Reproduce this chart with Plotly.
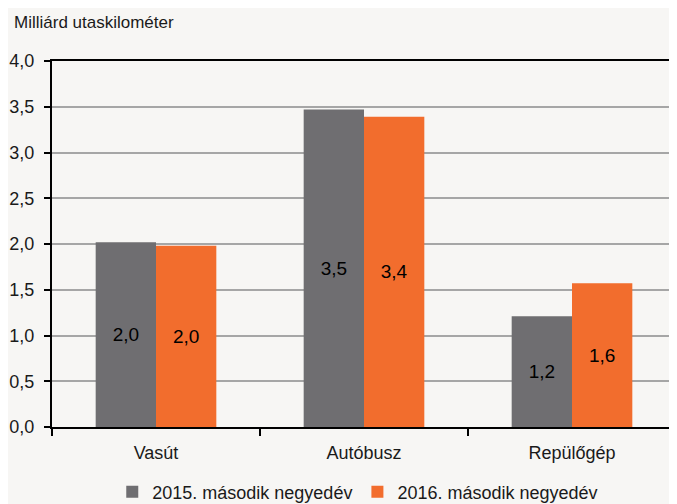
import plotly.graph_objects as go

categories = ["Vasút", "Autóbusz", "Repülőgép"]
series_names = ["2015. második negyedév", "2016. második negyedév"]
values_2015 = [2.02, 3.47, 1.21]
values_2016 = [1.98, 3.39, 1.57]
labels_2015 = ["2,0", "3,5", "1,2"]
labels_2016 = ["2,0", "3,4", "1,6"]
tick_vals = [0, 0.5, 1, 1.5, 2, 2.5, 3, 3.5, 4]

FONT = "Liberation Sans, Arial, sans-serif"
BG = "#f7f6f4"
W, H = 669, 496  # page body has an 8px margin

fig = go.Figure()
fig.add_trace(go.Bar(
    x=categories, y=values_2015, name=series_names[0],
    marker=dict(color="#6f6e71", line=dict(width=0)),
    text=labels_2015, textposition="inside", insidetextanchor="middle",
    textfont=dict(color="black", size=19, family=FONT),
))
fig.add_trace(go.Bar(
    x=categories, y=values_2016, name=series_names[1],
    marker=dict(color="#f26d2d", line=dict(width=0)),
    text=labels_2016, textposition="inside", insidetextanchor="middle",
    textfont=dict(color="black", size=19, family=FONT),
))

fig.update_layout(
    width=W, height=H,
    paper_bgcolor=BG, plot_bgcolor=BG,
    font=dict(family=FONT, size=18, color="#1a1a1a"),
    margin=dict(l=44, r=1, t=53, b=77),
    barmode="group", bargap=0.42, bargroupgap=0,
    separators=", ",
    title=dict(text="Milliárd utaskilométer", x=6/W, xanchor="left",
               y=1 - 14/H, yanchor="middle", xref="container", yref="container",
               font=dict(size=17, family=FONT, color="#1a1a1a"), automargin=False),
    legend=dict(orientation="h", x=0.49, xanchor="center", y=1 - 484/H, yanchor="middle",
                xref="paper", yref="container",
                font=dict(size=18, family=FONT), itemwidth=30, bgcolor="rgba(0,0,0,0)"),
    showlegend=True,
)
fig.update_yaxes(
    range=[0, 4], tickvals=tick_vals, tickformat=".1f", automargin=False,
    showgrid=True, gridcolor="#a6a6a6", gridwidth=1.5,
    showline=True, linecolor="black", linewidth=2,
    ticks="outside", ticklen=6, tickcolor="black", tickwidth=2,
    ticklabelstandoff=6,
    zeroline=False, fixedrange=True,
)
fig.update_xaxes(
    showline=True, linecolor="black", linewidth=2, mirror=True, automargin=False,
    ticks="outside", tickson="boundaries", ticklen=7, tickcolor="black", tickwidth=2,
    ticklabelstandoff=8,
    showgrid=False,
)
fig.add_shape(type="line", xref="paper", yref="paper", x0=1, x1=1, y0=0, y1=1,
              line=dict(color="#a6a6a6", width=1.5))

fig.write_html("out.html")
